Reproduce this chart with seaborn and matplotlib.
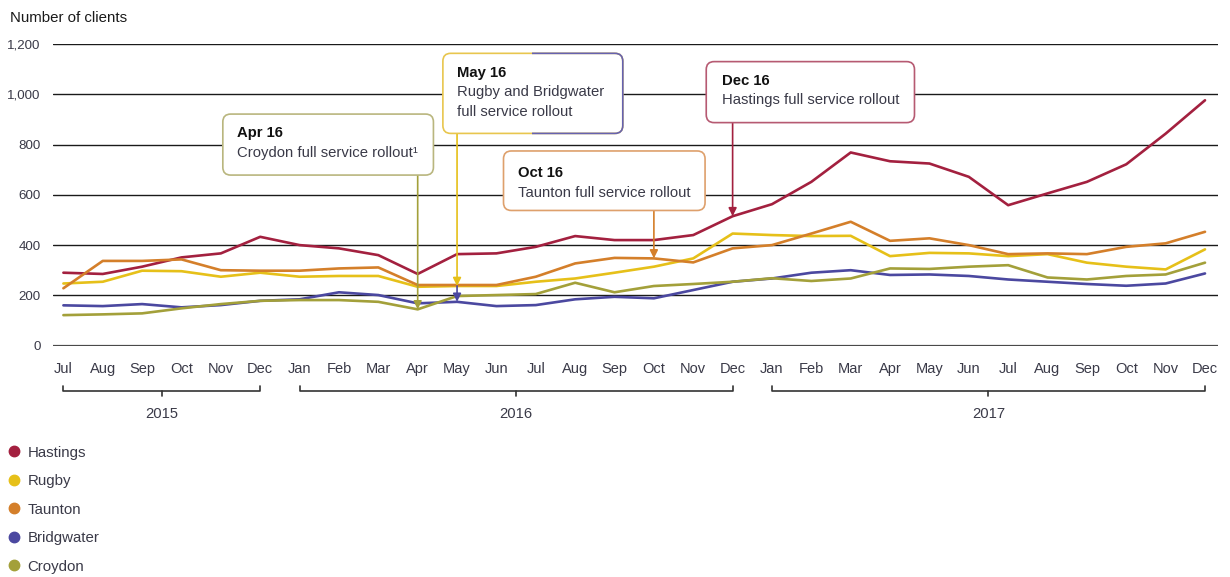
import matplotlib
matplotlib.use("Agg")
import matplotlib.pyplot as plt
import matplotlib.transforms as mtransforms
from matplotlib.lines import Line2D
from matplotlib.patches import FancyBboxPatch, Rectangle
import pandas as pd
import seaborn as sns

# ---- data -------------------------------------------------------------
months = ["Jul", "Aug", "Sep", "Oct", "Nov", "Dec",
          "Jan", "Feb", "Mar", "Apr", "May", "Jun",
          "Jul", "Aug", "Sep", "Oct", "Nov", "Dec",
          "Jan", "Feb", "Mar", "Apr", "May", "Jun",
          "Jul", "Aug", "Sep", "Oct", "Nov", "Dec"]
years = ["2015"] * 6 + ["2016"] * 12 + ["2017"] * 12

sites = ["Hastings", "Rugby", "Taunton", "Bridgwater", "Croydon"]

hastings = [290, 285, 314, 351, 367, 433,
            400, 387, 360, 285, 364, 367, 393, 436, 420, 420, 440, 515,
            563, 652, 769, 734, 725, 672, 559, 606, 652, 722, 844, 977]
rugby = [247, 254, 298, 296, 274, 290,
         274, 277, 277, 234, 237, 237, 254, 267, 290, 314, 347, 446,
         440, 436, 437, 356, 369, 367, 356, 364, 330, 314, 303, 383]
taunton = [228, 337, 337, 343, 300, 298,
           298, 307, 311, 241, 241, 241, 274, 327, 349, 347, 331, 387,
           400, 446, 493, 417, 427, 400, 364, 367, 364, 393, 407, 453]
bridgwater = [160, 157, 165, 152, 161, 178,
              184, 212, 201, 168, 174, 157, 161, 184, 194, 188, 221, 254,
              267, 290, 300, 281, 283, 277, 263, 254, 245, 238, 247, 287]
croydon = [121, 124, 128, 148, 165, 178,
           181, 181, 174, 144, 197, 201, 205, 250, 212, 237, 245, 254,
           268, 257, 267, 307, 305, 314, 320, 271, 263, 277, 283, 330]

series = dict(zip(sites, [hastings, rugby, taunton, bridgwater, croydon]))

colors = {"Hastings": "#a3203f", "Rugby": "#e6c019", "Taunton": "#d47f2a",
          "Bridgwater": "#4b48a0", "Croydon": "#a3a03a"}
box_edges = {"Hastings": "#b65a72", "Rugby": "#e8c64e", "Taunton": "#dea06c",
             "Bridgwater": "#6662b0", "Croydon": "#b9b67e"}

yticks = [0, 200, 400, 600, 800, 1000, 1200]

rows = []
for name in sites:
    for i, v in enumerate(series[name]):
        rows.append({"idx": i, "clients": v, "site": name})
df = pd.DataFrame(rows)

# ---- style ------------------------------------------------------------
sns.set_theme(style="white")
plt.rcParams["font.family"] = ["Liberation Sans", "DejaVu Sans"]
txt_col = "#3a3a48"

fig = plt.figure(figsize=(12.3, 5.77), dpi=100)
W, H = 1230, 577
ax_left, ax_right = 53 / W, 1218 / W
ax_top, ax_bot = 1 - 44.3 / H, 1 - 345.5 / H
ax = fig.add_axes([ax_left, ax_bot, ax_right - ax_left, ax_top - ax_bot])

sns.lineplot(data=df, x="idx", y="clients", hue="site", hue_order=sites,
             palette=colors, linewidth=1.9, legend=False, ax=ax, zorder=3)

ax.set_xlim(-0.264, 29.33)
ax.set_ylim(0, 1200)
for s in ax.spines.values():
    s.set_visible(False)

# horizontal rules
for v in yticks[1:]:
    ax.axhline(v, color="#1a1a1a", lw=1.0, zorder=1)
ax.axhline(0, color="#4a4a4a", lw=1.6, zorder=1)

ax.set_yticks(yticks)
ax.set_yticklabels([f"{v:,}" for v in yticks])
ax.tick_params(axis="y", length=0, pad=9, labelsize=9.6, labelcolor=txt_col)
ax.set_xticks(range(len(months)))
ax.set_xticklabels(months)
ax.tick_params(axis="x", length=4, width=1.2, color="#333333", direction="out",
               pad=8, labelsize=10.5, labelcolor=txt_col)
ax.set_xlabel("")
ax.set_ylabel("")

fig.text(10 / W, 1 - 17.5 / H, "Number of clients", fontsize=10.8,
         color="#1a1a1a", ha="left", va="center")

# ---- year brackets ----------------------------------------------------
trans = mtransforms.blended_transform_factory(ax.transData, ax.transAxes)
y_end, y_bar, y_mid = -0.1335, -0.150, -0.1667
for yr in ["2015", "2016", "2017"]:
    idx = [i for i, y in enumerate(years) if y == yr]
    a, b = idx[0], idx[-1]
    ax.plot([a, a, b, b], [y_end, y_bar, y_bar, y_end], color="#333333",
            lw=1.2, transform=trans, clip_on=False)
    m = (a + b) / 2
    ax.plot([m, m], [y_bar, y_mid], color="#333333", lw=1.2,
            transform=trans, clip_on=False)
    ax.text(m, -0.227, yr, transform=trans, ha="center", va="center",
            fontsize=10.6, color=txt_col)

# ---- callout boxes ----------------------------------------------------
fs = 10.7
line_step = 77       # vertical distance between text lines, in data units
# one x unit is ~39.4 px and one y unit ~0.251 px; the aspect keeps
# the rounded corners circular
corner_aspect = 156.8


def box(x0, x1, y0, y1, edge, clip=None):
    p = FancyBboxPatch((x0, y0), x1 - x0, y1 - y0,
                       boxstyle="round,pad=0,rounding_size=0.2",
                       mutation_aspect=corner_aspect,
                       fc="white" if clip is None else "none",
                       ec=edge, lw=1.2, zorder=5)
    ax.add_patch(p)
    if clip is not None:
        p.set_clip_path(clip)
    return p


def label(x, y_title, title, lines):
    ax.text(x, y_title, title, ha="left", va="center", fontsize=fs,
            fontweight="bold", color="#111111", zorder=6)
    for k, ln in enumerate(lines, start=1):
        ax.text(x, y_title - k * line_step, ln, ha="left", va="center",
                fontsize=fs, color=txt_col, zorder=6)


def arrow(x, y0, y1, col):
    ax.annotate("", xy=(x, y1), xytext=(x, y0), zorder=4,
                arrowprops=dict(arrowstyle="-|>", color=col, lw=1.2,
                                shrinkA=0, shrinkB=0, mutation_scale=12))


# Apr 16 - Croydon
box(4.05, 9.40, 679, 922, box_edges["Croydon"])
label(4.41, 845, "Apr 16", ["Croydon full service rollout\u00b9"])
arrow(9, 679, series["Croydon"][9], colors["Croydon"])

# May 16 - Rugby and Bridgwater (border split between the two colours)
box(9.64, 14.21, 845, 1164, box_edges["Rugby"])
right_clip = Rectangle((11.9, 0), 10, 1200, transform=ax.transData)
box(9.64, 14.21, 845, 1164, box_edges["Bridgwater"], clip=right_clip)
label(9.99, 1086, "May 16", ["Rugby and Bridgwater", "full service rollout"])
arrow(10, 845, series["Rugby"][10], colors["Rugby"])
arrow(10, series["Rugby"][10], series["Bridgwater"][10], colors["Bridgwater"])

# Oct 16 - Taunton
box(11.18, 16.30, 538, 775, box_edges["Taunton"])
label(11.56, 686, "Oct 16", ["Taunton full service rollout"])
arrow(15, 538, series["Taunton"][15], colors["Taunton"])

# Dec 16 - Hastings
box(16.33, 21.62, 888, 1131, box_edges["Hastings"])
label(16.72, 1054, "Dec 16", ["Hastings full service rollout"])
arrow(17, 888, series["Hastings"][17], colors["Hastings"])

# ---- legend -----------------------------------------------------------
handles = [Line2D([], [], ls="", marker="o", markersize=7.5,
                  markerfacecolor=colors[s], markeredgecolor=colors[s])
           for s in sites]
fig.legend(handles, sites, loc="upper left", bbox_to_anchor=(6 / W, 1 - 445.5 / H),
           frameon=False, fontsize=10.8, labelcolor=txt_col, handlelength=1.0,
           handletextpad=0.42, labelspacing=0.97, borderpad=0, borderaxespad=0)

fig.savefig("out.png", dpi=100, facecolor="white")
